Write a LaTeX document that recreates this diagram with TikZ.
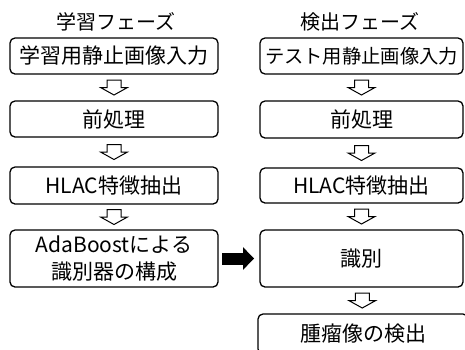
\documentclass[tikz,border=0pt]{standalone}
\usepackage{fontspec}
\setmainfont{Noto Sans CJK JP}
\usetikzlibrary{arrows.meta}
\begin{document}
\begin{tikzpicture}[x=1pt,y=-1pt,
  box/.style={draw=black, line width=1.3pt, rounded corners=5pt, inner sep=0pt, font=\fontsize{21}{27}\selectfont, align=center},
  phasetitle/.style={font=\fontsize{20}{24}\selectfont, inner sep=0pt},
  openarrow/.pic={\draw[line width=1pt, fill=white] (-7,-7.5) -- (7,-7.5) -- (7,0) -- (13.5,0) -- (0,7.5) -- (-13.5,0) -- (-7,0) -- cycle;},
  bigarrow/.style={line width=12pt, -{Triangle[length=11pt,width=22pt]}}
]
\useasboundingbox (0,0) rectangle (465,349);
\clip (0,0) rectangle (465,349);
% titles
\node[phasetitle] (t1) at (116,22) {学習フェーズ};
\node[phasetitle] (t2) at (360,22) {検出フェーズ};
% left column
\node[box, minimum width=208pt, minimum height=36pt] (l1) at (114,56) {学習用静止画像入力};
\node[box, minimum width=208pt, minimum height=36pt] (l2) at (114,119) {前処理};
\node[box, minimum width=208pt, minimum height=37pt] (l3) at (114,185.5) {HLAC特徴抽出};
\node[box, minimum width=208pt, minimum height=57pt] (l4) at (114,258.5) {AdaBoostによる\\識別器の構成};
% right column
\node[box, minimum width=203pt, minimum height=36pt, font=\fontsize{19.3}{24}\selectfont] (r1) at (361.5,56) {テスト用静止画像入力};
\node[box, minimum width=203pt, minimum height=37pt] (r2) at (361.5,119.5) {前処理};
\node[box, minimum width=203pt, minimum height=35pt] (r3) at (361.5,185.5) {HLAC特徴抽出};
\node[box, minimum width=203pt, minimum height=57pt] (r4) at (361.5,258.5) {識別};
\node[box, minimum width=210pt, minimum height=40pt] (r5) at (363,334) {腫瘤像の検出};
% open arrows
\path (l1.south) -- coordinate[pos=0.5] (a1) (l2.north);
\path (l2.south) -- coordinate[pos=0.5] (a2) (l3.north);
\path (l3.south) -- coordinate[pos=0.5] (a3) (l4.north);
\path (r1.south) -- coordinate[pos=0.5] (b1) (r2.north);
\path (r2.south) -- coordinate[pos=0.5] (b2) (r3.north);
\path (r3.south) -- coordinate[pos=0.5] (b3) (r4.north);
\path (r4.south) -- coordinate[pos=0.5] (b4) (r5.north);
\pic at (a1) {openarrow};
\pic at (a2) {openarrow};
\pic at (a3) {openarrow};
\pic at (b1) {openarrow};
\pic at (b2) {openarrow};
\pic at (b3) {openarrow};
\pic at (b4) {openarrow};
% black arrow
\draw[bigarrow, shorten <=3.5pt, shorten >=5.3pt] (l4.east) -- (r4.west);
\end{tikzpicture}
\end{document}
